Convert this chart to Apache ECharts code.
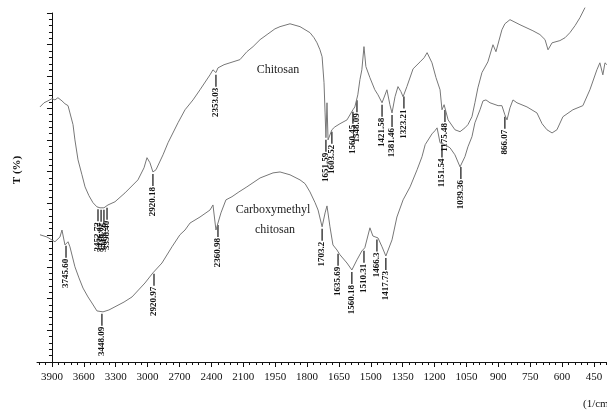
<!DOCTYPE html>
<html>
<head>
<meta charset="utf-8">
<script src="https://cdn.jsdelivr.net/npm/echarts@6/dist/echarts.min.js"></script>
<style>
  html, body { margin: 0; padding: 0; background: #fff; }
  #chart { width: 607px; height: 415px; }
</style>
</head>
<body>
<div id="chart"></div>
<script>
// wavenumber tick labels (axis is 300 per step above 2100, 150 per step below)
const xTickLabels = [3900, 3600, 3300, 3000, 2700, 2400, 2100, 1950, 1800, 1650, 1500, 1350, 1200, 1050, 900, 750, 600, 450];

// chitosan spectrum (wavenumber, T)
const chitosanWn = [4013, 3975, 3938, 3900, 3872, 3844, 3806, 3778, 3749, 3731, 3702, 3684, 3655, 3618, 3589, 3552, 3514, 3477, 3448, 3411, 3373, 3307, 3213, 3091, 3034, 3006, 2978, 2950, 2921, 2903, 2855, 2808, 2714, 2648, 2573, 2507, 2413, 2385, 2357, 2338, 2281, 2225, 2131, 2083, 2054, 2021, 1988, 1951, 1927, 1880, 1833, 1786, 1767, 1753, 1739, 1729, 1720, 1715, 1711, 1706, 1701, 1692, 1683, 1669, 1645, 1612, 1584, 1575, 1561, 1551, 1542, 1532, 1523, 1504, 1481, 1466, 1447, 1424, 1410, 1400, 1386, 1372, 1358, 1348, 1330, 1301, 1268, 1249, 1235, 1212, 1193, 1174, 1165, 1155, 1136, 1104, 1080, 1057, 1043, 1024, 1010, 996, 977, 949, 925, 911, 883, 869, 845, 798, 737, 704, 680, 666, 647, 610, 586, 563, 539, 516, 492];
const chitosanT = [80.4, 81.7, 82.3, 83.0, 82.6, 83.3, 82.3, 81.4, 80.8, 78.5, 74.8, 70.0, 63.7, 59.0, 55.2, 52.4, 50.2, 48.9, 48.6, 48.6, 49.5, 50.5, 53.3, 57.4, 61.2, 64.4, 62.8, 59.9, 60.6, 61.2, 65.3, 69.1, 75.4, 79.5, 82.6, 85.8, 90.5, 92.1, 91.2, 92.7, 93.7, 94.3, 95.3, 97.8, 99.4, 101.6, 103.2, 105.0, 105.7, 106.6, 105.7, 103.8, 102.2, 100.6, 98.4, 96.2, 88.0, 78.5, 70.7, 81.7, 70.0, 70.0, 73.2, 74.1, 75.1, 76.3, 79.5, 80.4, 84.2, 89.0, 92.1, 99.4, 93.1, 89.6, 85.8, 84.2, 81.7, 85.8, 81.1, 78.5, 83.6, 86.8, 85.2, 83.6, 86.8, 92.4, 94.6, 95.9, 97.5, 94.3, 89.6, 85.8, 79.5, 81.1, 76.3, 73.2, 72.6, 73.8, 74.8, 77.3, 81.7, 86.4, 91.2, 94.6, 100.0, 97.8, 104.7, 106.6, 107.9, 106.3, 104.4, 103.2, 101.6, 98.4, 100.6, 101.3, 102.2, 103.8, 106.0, 108.5, 111.7];

// carboxymethyl chitosan spectrum (wavenumber, T)
const cmcWn = [4013, 3947, 3872, 3825, 3806, 3778, 3749, 3731, 3684, 3646, 3608, 3561, 3524, 3477, 3420, 3364, 3307, 3222, 3147, 3025, 2950, 2865, 2771, 2696, 2648, 2601, 2507, 2413, 2385, 2357, 2310, 2263, 2206, 2141, 2083, 2021, 1960, 1927, 1880, 1833, 1809, 1786, 1762, 1748, 1729, 1715, 1706, 1692, 1678, 1659, 1645, 1612, 1589, 1565, 1542, 1528, 1504, 1490, 1466, 1447, 1429, 1400, 1377, 1348, 1315, 1282, 1259, 1244, 1212, 1198, 1188, 1174, 1151, 1127, 1104, 1080, 1057, 1043, 1024, 1010, 986, 972, 958, 939, 901, 883, 869, 859, 845, 831, 812, 765, 718, 694, 671, 647, 624, 596, 549, 502, 469, 436, 422, 408, 398, 389];
const cmcT = [40.1, 39.4, 37.9, 39.4, 41.6, 36.9, 37.9, 36.3, 30.0, 26.5, 23.3, 20.5, 18.6, 16.1, 15.8, 16.4, 17.4, 18.9, 20.5, 24.9, 28.1, 31.2, 36.3, 40.1, 41.6, 43.8, 45.7, 47.9, 49.5, 41.6, 47.0, 51.1, 52.1, 53.6, 55.2, 58.0, 59.6, 59.9, 59.0, 57.4, 56.2, 53.6, 50.2, 47.9, 42.6, 47.0, 49.2, 42.6, 36.9, 35.3, 33.8, 31.2, 29.0, 32.2, 35.0, 36.0, 42.3, 39.7, 39.1, 36.3, 33.4, 38.5, 45.7, 51.1, 55.2, 60.6, 64.7, 68.5, 71.9, 72.9, 73.8, 69.1, 68.5, 67.5, 65.3, 61.5, 64.7, 67.8, 71.0, 75.4, 79.5, 82.3, 82.6, 81.7, 80.8, 80.8, 77.9, 76.3, 80.1, 82.6, 81.7, 80.4, 78.5, 75.1, 73.2, 72.2, 73.2, 77.3, 79.5, 80.8, 85.8, 92.1, 94.3, 90.5, 94.3, 93.7];

// peak annotations: where the marker sits, its text, and which curve (0 chitosan, 1 CMC)
const peakWn = [3467, 3438, 3411, 3382, 2950, 2357, 1711, 1683, 1584, 1565, 1447, 1400, 1344, 1151,
                3768, 3430, 2940, 2338, 1729, 1654, 1589, 1532, 1471, 1429, 1165, 1076, 869];
const peakText = ['3452.72', '3436.07', '3419.26', '3398.40', '2920.18', '2353.03', '1651.59', '1603.52', '1560.45', '1548.09', '1421.58', '1381.46', '1323.21', '1175.48',
                  '3745.60', '3448.09', '2920.97', '2360.98', '1703.2', '1635.69', '1560.18', '1510.31', '1466.3', '1417.73', '1151.54', '1039.36', '866.07'];
const peakCurve = [0, 0, 0, 0, 0, 0, 0, 0, 0, 0, 0, 0, 0, 0,
                   1, 1, 1, 1, 1, 1, 1, 1, 1, 1, 1, 1, 1];

// wavenumber -> position along the (piecewise) axis
function pos(w) {
  return w >= 2100 ? (3900 - w) / 300 : 6 + (2100 - w) / 150;
}

function interp(wns, ts, w) {
  for (let i = 0; i < wns.length - 1; i++) {
    if (w <= wns[i] && w >= wns[i + 1]) {
      const f = (wns[i] - w) / (wns[i] - wns[i + 1]);
      return ts[i] + f * (ts[i + 1] - ts[i]);
    }
  }
  return ts[ts.length - 1];
}

const serif = '"Liberation Serif", "DejaVu Serif", serif';
const curves = [[chitosanWn, chitosanT], [cmcWn, cmcT]];

const peakData = peakWn.map((w, i) => {
  const c = curves[peakCurve[i]];
  return [pos(w), interp(c[0], c[1], w), i];
});

const minorTicks = [];
for (let v = -0.4; v < 17.45; v += 0.2) minorTicks.push(+v.toFixed(2));

let myChart = echarts.init(document.getElementById('chart'));
let option = {
  animation: false,
  grid: { left: 37, right: 0, top: 13, bottom: 53 },
  xAxis: [
    {
      type: 'value',
      min: -0.47,
      max: 17.41,
      axisLine: { lineStyle: { color: '#111', width: 1 } },
      axisTick: { length: 5, lineStyle: { color: '#111' }, customValues: xTickLabels.map((d, i) => i) },
      axisLabel: {
        customValues: xTickLabels.map((d, i) => i),
        formatter: v => String(xTickLabels[Math.round(v)]),
        color: '#111',
        fontFamily: serif,
        fontSize: 11,
        margin: 10
      },
      splitLine: { show: false }
    },
    {
      type: 'value',
      min: -0.47,
      max: 17.41,
      position: 'bottom',
      axisLine: { show: false },
      axisTick: { length: 3, lineStyle: { color: '#111' }, customValues: minorTicks },
      axisLabel: { show: false },
      splitLine: { show: false }
    }
  ],
  yAxis: {
    type: 'value',
    min: 0,
    max: 110,
    interval: 10,
    axisLine: { show: true, lineStyle: { color: '#111', width: 1 } },
    axisTick: { show: true, length: 5, lineStyle: { color: '#111' } },
    minorTick: { show: true, splitNumber: 5, length: 3, lineStyle: { color: '#111' } },
    axisLabel: { show: false },
    splitLine: { show: false }
  },
  graphic: [
    { type: 'text', x: 17, y: 170, rotation: Math.PI / 2,
      style: { text: 'T (%)', font: 'bold 11px ' + serif, fill: '#111', textAlign: 'center', textVerticalAlign: 'middle' } },
    { type: 'text', x: 278, y: 70,
      style: { text: 'Chitosan', font: '12px ' + serif, fill: '#222', textAlign: 'center', textVerticalAlign: 'middle' } },
    { type: 'text', x: 273, y: 210,
      style: { text: 'Carboxymethyl', font: '12px ' + serif, fill: '#222', textAlign: 'center', textVerticalAlign: 'middle' } },
    { type: 'text', x: 275, y: 230,
      style: { text: 'chitosan', font: '12px ' + serif, fill: '#222', textAlign: 'center', textVerticalAlign: 'middle' } },
    { type: 'text', x: 583, y: 404,
      style: { text: '(1/cm)', font: '11px ' + serif, fill: '#111', textAlign: 'left', textVerticalAlign: 'middle' } }
  ],
  series: [
    {
      name: 'Chitosan',
      type: 'line',
      showSymbol: false,
      clip: false,
      lineStyle: { color: '#777', width: 1 },
      data: chitosanWn.map((w, i) => [pos(w), chitosanT[i]])
    },
    {
      name: 'Carboxymethyl chitosan',
      type: 'line',
      showSymbol: false,
      clip: false,
      lineStyle: { color: '#777', width: 1 },
      data: cmcWn.map((w, i) => [pos(w), cmcT[i]])
    },
    {
      type: 'custom',
      data: peakData,
      renderItem: (params, api) => {
        const p = api.coord([api.value(0), api.value(1)]);
        const idx = api.value(2);
        return {
          type: 'group',
          children: [
            { type: 'line', shape: { x1: p[0], y1: p[1] + 2, x2: p[0], y2: p[1] + 14 },
              style: { stroke: '#111', lineWidth: 1.2 } },
            { type: 'text', x: p[0], y: p[1] + 15, rotation: Math.PI / 2,
              style: { text: peakText[idx], font: 'bold 9px ' + serif, fill: '#111', textAlign: 'right', textVerticalAlign: 'middle' } }
          ]
        };
      }
    }
  ]
};
myChart.setOption(option);
</script>
</body>
</html>
